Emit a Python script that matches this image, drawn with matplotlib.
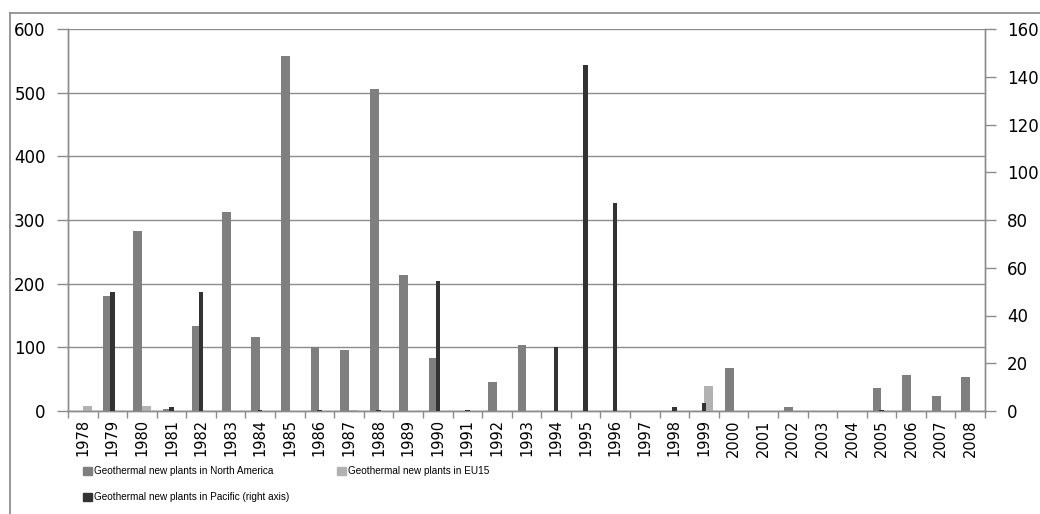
import matplotlib.pyplot as plt
from matplotlib.lines import Line2D
from matplotlib.patches import Patch
import numpy as np

# data
years = [str(y) for y in range(1978, 2009)]
north_america = [0, 181, 283, 3, 134, 313, 117, 558, 100, 96, 505, 214, 83, 0, 45, 104,
                 0, 0, 0, 0, 0, 0, 68, 0, 7, 0, 0, 36, 57, 24, 53]
eu15 = [8, 0, 8, 0, 0, 0, 0, 0, 0, 1, 0, 0, 0, 0, 0, 0,
        0, 0, 0, 0, 0, 39, 0, 0, 0, 0, 0, 0, 0, 0, 0]
pacific = [0, 50, 0, 1.5, 50, 0, 0.5, 0, 0.5, 0, 0.5, 0, 54.5, 0.5, 0, 0,
           27, 145, 87, 0, 1.8, 3.2, 0, 0, 0, 0, 0, 0.5, 0, 0, 0]

c_na = '#7f7f7f'
c_eu = '#b2b2b2'
c_pa = '#333333'
grid_c = '#8c8c8c'

W, H = 1040, 514
fig = plt.figure(figsize=(W / 100, H / 100), dpi=100)
ax = fig.add_axes([68 / W, 1 - 411 / H, (985 - 68) / W, (411 - 29) / H])
ax2 = ax.twinx()

x = np.arange(len(years))
ax.bar(x - 0.15, north_america, width=0.3, color=c_na, zorder=3)
ax.bar(x + 0.15, eu15, width=0.3, color=c_eu, zorder=3)
ax2.bar(x, pacific, width=0.15, color=c_pa, zorder=3)

ax.set_xlim(-0.5, len(years) - 0.5)
ax.set_ylim(0, 600)
ax.set_yticks(range(0, 601, 100))
ax2.set_ylim(0, 160)
ax2.set_yticks(range(0, 161, 20))

ax.yaxis.grid(True, color=grid_c, lw=1, zorder=0)
ax.set_axisbelow(True)

ax.set_xticks(x)
ax.set_xticklabels(years, rotation=90, fontsize=10.5)
ax.set_xticks(np.arange(-0.5, len(years)), minor=True)
ax.tick_params(axis='x', which='major', length=0, pad=6)
ax.tick_params(axis='x', which='minor', length=5, color=grid_c, width=1)
ax.tick_params(axis='y', length=8, color=grid_c, width=1, pad=8, labelsize=12)
ax2.tick_params(axis='y', length=8, color=grid_c, width=1, pad=8, labelsize=12)

for a in (ax, ax2):
    a.spines['top'].set_visible(False)
    for s in ('left', 'right', 'bottom'):
        a.spines[s].set_color(grid_c)
        a.spines[s].set_linewidth(1)

# outer chart border (only top and left visible in the crop)
fig.add_artist(Line2D([10 / W, 10 / W], [0, 1 - 13 / H], color='#888888', lw=1.2))
fig.add_artist(Line2D([10 / W, 1], [1 - 13 / H, 1 - 13 / H], color='#888888', lw=1.2))

leg_font = {'family': ['Liberation Sans', 'DejaVu Sans'], 'size': 7.2}
entries = [
    (c_na, 'Geothermal new plants in North America', 83, 471),
    (c_eu, 'Geothermal new plants in EU15', 337, 471),
    (c_pa, 'Geothermal new plants in Pacific (right axis)', 83, 497),
]
for col, label, px, py in entries:
    leg = fig.legend(handles=[Patch(color=col, label=label)], loc='center left',
                     bbox_to_anchor=(px / W, 1 - py / H), frameon=False,
                     borderpad=0, borderaxespad=0, handlelength=0.85, handleheight=0.85,
                     handletextpad=0.2, prop=leg_font)
    for t in leg.get_texts():
        t.set_color('black')

plt.savefig('out.png', dpi=100)
